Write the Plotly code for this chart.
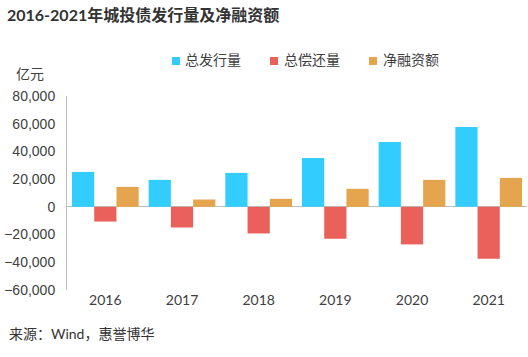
import plotly.graph_objects as go

years = ["2016", "2017", "2018", "2019", "2020", "2021"]
issuance = [25200, 19500, 24500, 35300, 46800, 57700]
repayment = [-10600, -14900, -19200, -23000, -27100, -37500]
net_financing = [14400, 5300, 5800, 13000, 19500, 20900]
series_names = ["总发行量", "总偿还量", "净融资额"]
colors = ["#33CCFF", "#EA605A", "#E4A54E"]
y_ticks = [-60000, -40000, -20000, 0, 20000, 40000, 60000, 80000]

W, H = 528, 357
ML, MR, MT, MB = 67, 1, 96, 67
PW, PH = W - ML - MR, H - MT - MB

def px(x):
    return (x - ML) / PW

def py(y):
    return (H - MB - y) / PH

LATO = "Lato, 'Noto Sans CJK SC', sans-serif"
SANS = "'Liberation Sans', Arial, 'Noto Sans CJK SC', sans-serif"

fig = go.Figure()
for name, vals, c in zip(series_names, [issuance, repayment, net_financing], colors):
    fig.add_trace(go.Bar(x=years, y=vals, name=name, marker=dict(color=c, line=dict(width=0)),
                         showlegend=False))

fig.update_layout(
    width=W, height=H,
    margin=dict(l=ML, r=MR, t=MT, b=MB, autoexpand=False),
    paper_bgcolor="white", plot_bgcolor="white",
    barmode="group", bargap=0.13, bargroupgap=0,
    font=dict(family=LATO, size=14, color="#404040"),
    title=dict(text="<b>2016-2021年城投债发行量及净融资额</b>", xref="container", yref="container",
               x=7 / W, xanchor="left", y=1 - 15 / H, yanchor="middle",
               font=dict(family=LATO, size=16, color="#333333")),
    showlegend=False,
)
fig.update_yaxes(range=[-60000, 80000], tickvals=y_ticks, tickformat=",", showgrid=False,
                 showline=True, linecolor="#BFBFBF", linewidth=1, ticks="", automargin=False,
                 zeroline=True, zerolinecolor="#BFBFBF", zerolinewidth=1.2,
                 ticklabelstandoff=8,
                 tickfont=dict(family=SANS, size=14, color="#404040"))
fig.update_xaxes(showgrid=False, showline=False, ticks="", automargin=False,
                 tickfont=dict(family=LATO, size=14, color="#404040"))

# custom legend (square swatch + label)
legend_px = [(172, 183), (270, 282), (369, 381)]
for (sx, tx), name, c in zip(legend_px, series_names, colors):
    fig.add_shape(type="rect", xref="paper", yref="paper", x0=px(sx), x1=px(sx + 8),
                  y0=py(65), y1=py(57), fillcolor=c, line=dict(width=0))
    fig.add_annotation(text=name, xref="paper", yref="paper", x=px(tx), y=py(59.5),
                       xanchor="left", yanchor="middle", showarrow=False,
                       font=dict(family=LATO, size=14, color="#404040"))

fig.add_annotation(text="亿元", xref="paper", yref="paper", x=px(30), y=py(73), xanchor="center",
                   yanchor="middle", showarrow=False, font=dict(size=14, color="#404040"))
fig.add_annotation(text="来源：Wind，惠誉博华", xref="paper", yref="paper", x=px(7), y=py(333),
                   xanchor="left", yanchor="middle", showarrow=False,
                   font=dict(size=14, color="#333333"))

fig.write_html("out.html", config={"displayModeBar": False},
               post_script="document.body.style.margin='0';")
